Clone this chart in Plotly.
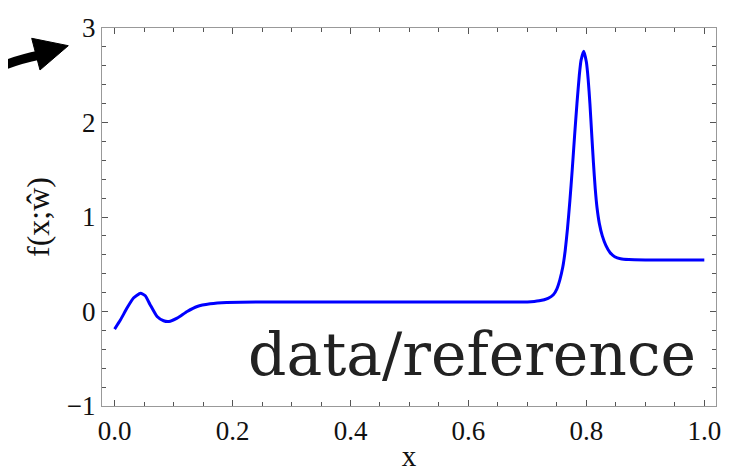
import plotly.graph_objects as go

# Curve samples
x_vals = [0.0, 0.010, 0.021, 0.032, 0.044, 0.052, 0.060, 0.072, 0.083, 0.092,
          0.106, 0.123, 0.140, 0.162, 0.19, 0.25, 0.4, 0.6, 0.70, 0.72,
          0.735, 0.744, 0.750, 0.755, 0.760, 0.764, 0.768, 0.772, 0.776, 0.780,
          0.784, 0.788, 0.791, 0.7955, 0.800, 0.803, 0.806, 0.809, 0.812, 0.815,
          0.818, 0.822, 0.827, 0.833, 0.840, 0.848, 0.858, 0.872, 0.9, 1.0]
y_vals = [-0.186, -0.088, 0.036, 0.142, 0.194, 0.166, 0.075, -0.053, -0.098, -0.106,
          -0.07, 0.0, 0.053, 0.081, 0.095, 0.1, 0.1, 0.1, 0.101, 0.113,
          0.14, 0.177, 0.24, 0.335, 0.47, 0.64, 0.88, 1.17, 1.50, 1.86,
          2.20, 2.50, 2.66, 2.755, 2.64, 2.46, 2.20, 1.88, 1.57, 1.30,
          1.10, 0.93, 0.80, 0.70, 0.625, 0.58, 0.558, 0.549, 0.546, 0.545]

x_ticks = [0.0, 0.2, 0.4, 0.6, 0.8, 1.0]
y_ticks = [-1, 0, 1, 2, 3]

tick_font = dict(family="Liberation Serif", size=27, color="#111")

fig = go.Figure()
fig.add_trace(go.Scatter(x=x_vals, y=y_vals, mode="lines",
                         line=dict(color="#0000ff", width=3, shape="spline", smoothing=0.5),
                         hoverinfo="skip", showlegend=False))

axis_common = dict(showline=True, linecolor="#999", linewidth=1.2, mirror="allticks",
                   ticks="inside", ticklen=6, tickwidth=1, tickcolor="#555",
                   showgrid=False, zeroline=False, tickfont=tick_font, automargin=False)

fig.update_xaxes(range=[-0.0214, 1.0198], tickvals=x_ticks, tickformat=".1f",
                 minor=dict(dtick=0.05, ticks="inside", ticklen=3.5, tickcolor="#555", showgrid=False),
                 title=dict(text="x", font=dict(family="Liberation Serif", size=29, color="#111"), standoff=17),
                 **axis_common)
fig.update_yaxes(range=[-1, 3], tickvals=y_ticks,
                 minor=dict(dtick=0.2, ticks="inside", ticklen=3.5, tickcolor="#555", showgrid=False),
                 title=dict(text="f(x;ŵ)", font=dict(family="Liberation Serif", size=32, color="#111"), standoff=7),
                 **axis_common)

fig.add_annotation(text="data/reference", xref="paper", yref="paper", x=0.97, y=0.041,
                   xanchor="right", yanchor="bottom", showarrow=False,
                   font=dict(family="DejaVu Serif", size=60, color="#222"))

# Decorative arrow (paper coordinates)
fig.add_shape(type="path", xref="paper", yref="paper",
              path="M -0.1710 0.8929 Q -0.1417 0.9153 -0.1010 0.9286",
              line=dict(color="#000", width=9))
fig.add_shape(type="path", xref="paper", yref="paper",
              path="M -0.0549 0.9532 L -0.1145 0.9728 L -0.1010 0.8889 Z",
              line=dict(color="#000", width=1), fillcolor="#000")

# page body has an 8px default margin, so the figure is 8px smaller and offset
fig.update_layout(width=744, height=464, margin=dict(l=94, r=36, t=20, b=66),
                  paper_bgcolor="white", plot_bgcolor="white")

fig.write_html("out.html")
